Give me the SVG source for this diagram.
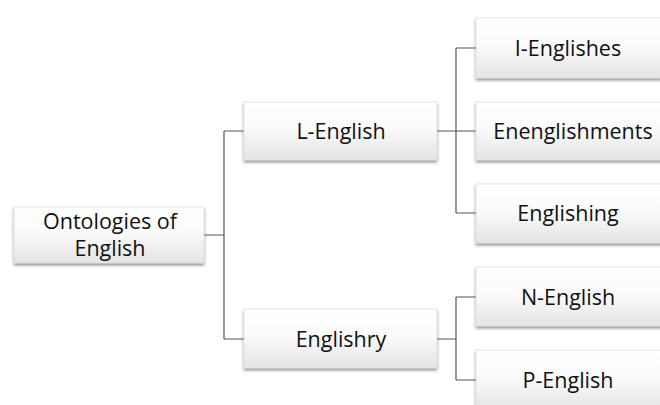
<svg xmlns="http://www.w3.org/2000/svg" width="660" height="405" viewBox="0 0 660 405">
<defs>
<linearGradient id="g" x1="0" y1="0" x2="0" y2="1">
<stop offset="0" stop-color="#ffffff"/>
<stop offset="0.45" stop-color="#fbfbfb"/>
<stop offset="1" stop-color="#e4e4e4"/>
</linearGradient>
<filter id="sh" x="-10%" y="-10%" width="120%" height="130%">
<feDropShadow dx="0" dy="2" stdDeviation="1.5" flood-color="#000" flood-opacity="0.45"/>
</filter>
</defs>
<style>
.box{fill:url(#g);stroke:#d8d8d8;stroke-width:0.6;filter:url(#sh)}
.t{font-family:"Open Sans","Liberation Sans",sans-serif;font-size:21.5px;fill:#111;text-anchor:middle}
.c{fill:none;stroke:#555;stroke-width:1.2}
</style>
<rect width="660" height="405" fill="#fff"/>
<g id="connectors">
<path class="c" d="M204 235H224M224 131V339M224 131H244M224 339H244"/>
<path class="c" d="M437 131H476M456 48V213M456 48H476M456 213H476"/>
<path class="c" d="M437 339H456M456 297V380M456 297H476M456 380H476"/>
</g>
<g id="root"><rect class="box" x="14" y="207" width="190" height="56"/>
<text class="t" x="110" y="229">Ontologies of</text><text class="t" x="110" y="256">English</text></g>
<g id="l-english"><rect class="box" x="244" y="102" width="193" height="58"/>
<text class="t" x="341" y="139">L-English</text></g>
<g id="englishry"><rect class="box" x="244" y="309" width="193" height="59"/>
<text class="t" x="341" y="347">Englishry</text></g>
<g id="i-englishes"><rect class="box" x="476" y="18" width="190" height="60"/>
<text class="t" x="568" y="56">I-Englishes</text></g>
<g id="enenglishments"><rect class="box" x="476" y="102" width="190" height="58"/>
<text class="t" x="573" y="139">Enenglishments</text></g>
<g id="englishing"><rect class="box" x="476" y="184" width="190" height="59"/>
<text class="t" x="568" y="221">Englishing</text></g>
<g id="n-english"><rect class="box" x="476" y="267" width="190" height="59"/>
<text class="t" x="568" y="305">N-English</text></g>
<g id="p-english"><rect class="box" x="476" y="350" width="190" height="60"/>
<text class="t" x="568" y="388">P-English</text></g>
</svg>
